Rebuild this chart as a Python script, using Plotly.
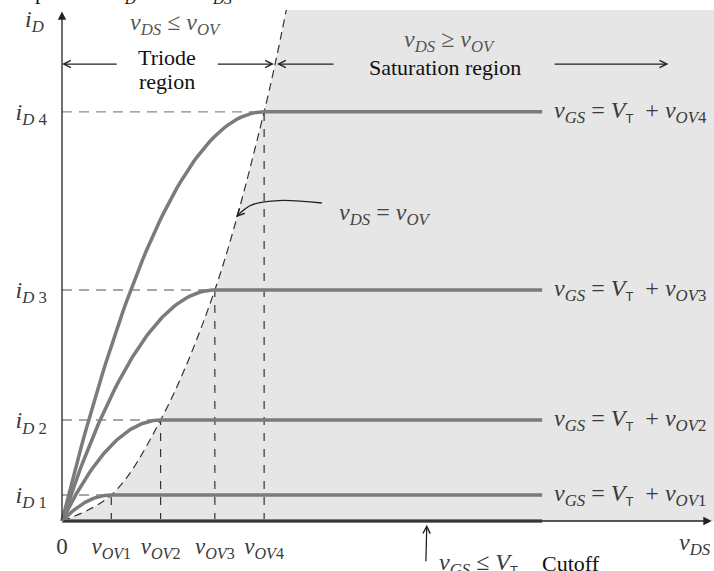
import plotly.graph_objects as go

# ---------------- values ----------------
v_ov = [1.0, 2.0, 3.1, 4.1]              # v_OV1 .. v_OV4  (x units)
i_d = [1.06, 4.12, 9.43, 16.7]           # i_D1 .. i_D4    (y units)
v_ds_end = 9.74                          # end of the drawn v_DS sweep
boundary_v = [0.0, 1.0, 2.0, 3.1, 4.1, 4.55]      # locus v_DS = v_OV
boundary_i = [0.0, 1.06, 4.12, 9.43, 16.7, 20.86]
shade_top = 20.86

x_tick_vals = [0.0] + v_ov
x_tick_text = ["0",
               "<i>v</i><sub><i>OV</i>1</sub>",
               "<i>v</i><sub><i>OV</i>2</sub>",
               "<i>v</i><sub><i>OV</i>3</sub>",
               "<i>v</i><sub><i>OV</i>4</sub>"]
y_tick_text = ["<i>i</i><sub><i>D</i> 1</sub>",
               "<i>i</i><sub><i>D</i> 2</sub>",
               "<i>i</i><sub><i>D</i> 3</sub>",
               "<i>i</i><sub><i>D</i> 4</sub>"]
T_SUB = "<sub><span style='font-family:Liberation Sans;font-size:13px'>T</span></sub>"
curve_labels = ["<i>v</i><sub><i>GS</i></sub> = <i>V</i>" + T_SUB +
                "  + <i>v</i><sub><i>OV</i>%d</sub>" % (k + 1) for k in range(4)]

# ---------------- styling ----------------
X_RANGE = [-1.2576, 13.2252]
Y_RANGE = [-2.0408, 21.2653]
SERIF = "Liberation Serif"
CURVE = "#7b7b7b"
MATH = "#3a3a3a"
INK = "#111111"

fig = go.Figure()

# saturation-region shading (right of the v_DS = v_OV locus)
fig.add_trace(go.Scatter(x=[X_RANGE[1], X_RANGE[1]], y=[0, shade_top],
                         mode="lines", line=dict(width=0), hoverinfo="skip"))
fig.add_trace(go.Scatter(x=boundary_v, y=boundary_i, mode="lines",
                         line=dict(width=0, shape="spline"),
                         fill="tonextx", fillcolor="#e6e6e6", hoverinfo="skip"))

# dashed guides
for v, i in zip(v_ov, i_d):
    fig.add_trace(go.Scatter(x=[0, v], y=[i, i], mode="lines",
                             line=dict(color="#8a8a8a", width=1.4, dash="10px,7px")))
    fig.add_trace(go.Scatter(x=[v, v], y=[0, i], mode="lines",
                             line=dict(color="#333333", width=1.2, dash="8px,8px")))

# v_DS = v_OV locus
fig.add_trace(go.Scatter(x=boundary_v, y=boundary_i, mode="lines",
                         line=dict(color="#333333", width=1.2, dash="8px,5px", shape="spline")))

# cutoff line along the axis
fig.add_trace(go.Scatter(x=[0, v_ds_end], y=[0, 0], mode="lines",
                         line=dict(color=CURVE, width=4)))

# characteristic curves: triode (square law) then saturation
for v, i in zip(v_ov, i_d):
    n = 60
    xs = [v * k / n for k in range(n + 1)]
    ys = [i * (2 * (x / v) - (x / v) ** 2) for x in xs]
    xs.append(v_ds_end)
    ys.append(i)
    fig.add_trace(go.Scatter(x=xs, y=ys, mode="lines",
                             line=dict(color=CURVE, width=3.5)))

# curved pointer to the locus
fig.add_trace(go.Scatter(x=[5.27, 4.4, 3.85, 3.55], y=[12.98, 13.08, 12.9, 12.45],
                         mode="lines", line=dict(color="#222", width=1.3, shape="spline")))

ann = []
# axes arrows
ann.append(dict(x=0, y=20.8, ax=0, ay=0, xref="x", yref="y", axref="x", ayref="y",
                text="", showarrow=True, arrowhead=2, arrowsize=1.3, arrowwidth=1.3,
                arrowcolor="#222"))
ann.append(dict(x=13.18, y=0, ax=0, ay=0, xref="x", yref="y", axref="x", ayref="y",
                text="", showarrow=True, arrowhead=2, arrowsize=1.3, arrowwidth=1.3,
                arrowcolor="#222"))
# region arrows
for head, tail in [(0.0, 1.14), (4.3, 3.13), (4.36, 5.54), (12.3, 9.96)]:
    ann.append(dict(x=head, y=18.65, ax=tail, ay=18.65, xref="x", yref="y",
                    axref="x", ayref="y", text="", showarrow=True, arrowhead=5,
                    arrowsize=1.1, arrowwidth=1.3, arrowcolor="#222"))
# pointer heads
ann.append(dict(x=3.53, y=12.4, ax=3.6, ay=12.55, xref="x", yref="y", axref="x", ayref="y",
                text="", showarrow=True, arrowhead=5, arrowsize=1.1, arrowwidth=1.3,
                arrowcolor="#222"))
ann.append(dict(x=7.4, y=-0.15, ax=7.38, ay=-1.7, xref="x", yref="y", axref="x", ayref="y",
                text="", showarrow=True, arrowhead=5, arrowsize=1.1, arrowwidth=1.3,
                arrowcolor="#222"))


def txt(x, y, s, size=22, color=MATH, xanchor="center"):
    ann.append(dict(x=x, y=y, xref="x", yref="y", text=s, showarrow=False,
                    xanchor=xanchor, yanchor="middle",
                    font=dict(family=SERIF, size=size, color=color)))


txt(-0.55, 20.4, "<i>i</i><sub><i>D</i></sub>", 24)
txt(2.31, 20.3, "<i>v</i><sub><i>DS</i></sub> ≤ <i>v</i><sub><i>OV</i></sub>", 24, "#555")
txt(2.12, 18.9, "Triode", 22, INK)
txt(2.12, 17.95, "region", 22, INK)
txt(7.87, 19.6, "<i>v</i><sub><i>DS</i></sub> ≥ <i>v</i><sub><i>OV</i></sub>", 24, "#555")
txt(7.77, 18.5, "Saturation region", 22, INK)
txt(5.58, 12.55, "<i>v</i><sub><i>DS</i></sub> = <i>v</i><sub><i>OV</i></sub>", 24, "#444",
    xanchor="left")
for i, lab in zip(i_d, curve_labels):
    txt(9.94, i, lab, 24, MATH, xanchor="left")
txt(12.84, -0.95, "<i>v</i><sub><i>DS</i></sub>", 24)
txt(7.6, -1.75, "<i>v</i><sub><i>GS</i></sub> ≤ <i>V</i>" + T_SUB, 24, MATH, xanchor="left")
txt(9.7, -1.75, "Cutoff", 22, INK, xanchor="left")

# cropped caption line at the very top (only its lowest pixels show)
ann.append(dict(x=0, y=1, xref="paper", yref="paper", xanchor="left", yanchor="bottom",
                yshift=-9, showarrow=False,
                text="Graph of the <i>i</i><sub><i>D</i></sub> versus <i>v</i><sub><i>DS</i></sub>",
                font=dict(family=SERIF, size=22, color=INK)))

fig.update_layout(
    width=714, height=571, margin=dict(l=0, r=0, t=0, b=0),
    paper_bgcolor="white", plot_bgcolor="white", showlegend=False,
    annotations=ann,
    xaxis=dict(range=X_RANGE, anchor="free", position=50 / 571, showgrid=False,
               zeroline=False, showline=False, ticks="", tickvals=x_tick_vals,
               ticktext=x_tick_text, ticklabelstandoff=9,
               tickfont=dict(family=SERIF, size=23, color=MATH), fixedrange=True),
    yaxis=dict(range=Y_RANGE, anchor="free", position=62 / 714, showgrid=False,
               zeroline=False, showline=False, ticks="", tickvals=i_d,
               ticktext=y_tick_text, ticklabelstandoff=15,
               tickfont=dict(family=SERIF, size=24, color=MATH), fixedrange=True),
)

fig.write_html("out.html", config={"displayModeBar": False},
               post_script="document.body.style.margin='0';")
